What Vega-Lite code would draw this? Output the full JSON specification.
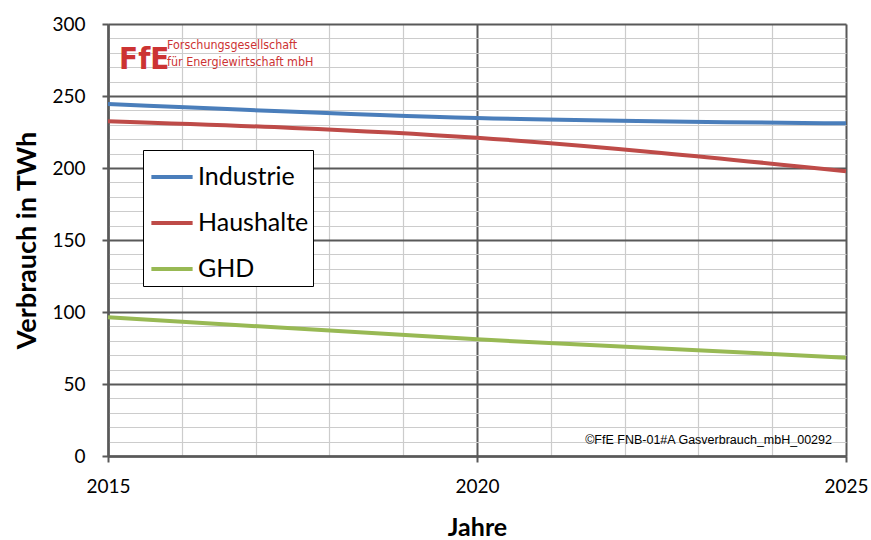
{
  "$schema": "https://vega.github.io/schema/vega-lite/v6.json",
  "width": 738,
  "height": 432,
  "autosize": "none",
  "padding": {"left": 108, "top": 24, "right": 25, "bottom": 84},
  "background": "white",
  "config": {
    "font": "Lato",
    "view": {"stroke": null},
    "axis": {"labelFont": "Lato", "titleFont": "Lato", "labelColor": "#000", "titleColor": "#000"}
  },
  "datasets": {
    "lines": [
      {"Jahr": 2015, "Sektor": "Industrie", "Wert": 244.4},
      {"Jahr": 2020, "Sektor": "Industrie", "Wert": 234.8},
      {"Jahr": 2025, "Sektor": "Industrie", "Wert": 231.0},
      {"Jahr": 2015, "Sektor": "Haushalte", "Wert": 232.5},
      {"Jahr": 2020, "Sektor": "Haushalte", "Wert": 221.0},
      {"Jahr": 2025, "Sektor": "Haushalte", "Wert": 197.8},
      {"Jahr": 2015, "Sektor": "GHD", "Wert": 96.3},
      {"Jahr": 2020, "Sektor": "GHD", "Wert": 81.0},
      {"Jahr": 2025, "Sektor": "GHD", "Wert": 68.3}
    ],
    "copy": [{"t": "©FfE FNB-01#A Gasverbrauch_mbH_00292"}],
    "logo": [{"t": "FfE"}],
    "l1": [{"t": "Forschungsgesellschaft"}],
    "l2": [{"t": "für Energiewirtschaft mbH"}]
  },
  "resolve": {"axis": {"x": "independent", "y": "independent"}},
  "layer": [
    {
      "data": {"name": "lines"},
      "mark": {"type": "line", "strokeOpacity": 0},
      "encoding": {
        "x": {"field": "Jahr", "type": "quantitative",
          "scale": {"domain": [2015, 2025], "nice": false, "zero": false},
          "axis": {"orient": "bottom", "values": [2016, 2017, 2018, 2019, 2021, 2022, 2023, 2024], "grid": true, "gridColor": "#cccccc", "gridWidth": 1.2, "labels": false, "ticks": false, "domain": false, "title": null}},
        "y": {"field": "Wert", "type": "quantitative",
          "scale": {"domain": [0, 300], "nice": false},
          "axis": {"orient": "left", "values": [10, 20, 30, 40, 60, 70, 80, 90, 110, 120, 130, 140, 160, 170, 180, 190, 210, 220, 230, 240, 260, 270, 280, 290], "grid": true, "gridColor": "#cccccc", "gridWidth": 1.2, "labels": false, "ticks": false, "domain": false, "title": null}},
        "detail": {"field": "Sektor"}
      }
    },
    {
      "data": {"name": "lines"},
      "mark": {"type": "line", "strokeOpacity": 0},
      "encoding": {
        "x": {"field": "Jahr", "type": "quantitative",
          "scale": {"domain": [2015, 2025], "nice": false, "zero": false},
          "axis": {"orient": "bottom", "values": [2015, 2020, 2025], "format": "d", "labelFlush": false, "labelBound": false, "grid": true, "gridColor": "#595959", "gridWidth": 2, "domain": true, "domainColor": "#595959", "domainWidth": 2.5, "ticks": true, "tickColor": "#595959", "tickWidth": 2, "tickSize": 6, "labelFontSize": 19, "labelPadding": 15, "title": "Jahre", "titleFontSize": 25, "titleFontWeight": "bold", "titlePadding": 19}},
        "y": {"field": "Wert", "type": "quantitative",
          "scale": {"domain": [0, 300], "nice": false},
          "axis": {"orient": "left", "values": [0, 50, 100, 150, 200, 250, 300], "grid": true, "gridColor": "#595959", "gridWidth": 2, "domain": true, "domainColor": "#595959", "domainWidth": 2.5, "ticks": true, "tickColor": "#595959", "tickWidth": 2, "tickSize": 6, "labelFontSize": 19, "labelPadding": 17, "title": "Verbrauch in TWh", "titleFontSize": 27, "titleFontWeight": "bold", "titlePadding": 10}},
        "detail": {"field": "Sektor"}
      }
    },
    {
      "data": {"name": "lines"},
      "mark": {"type": "line", "strokeWidth": 4, "interpolate": "monotone"},
      "encoding": {
        "x": {"field": "Jahr", "type": "quantitative", "axis": null},
        "y": {"field": "Wert", "type": "quantitative", "axis": null},
        "color": {"field": "Sektor", "type": "nominal",
          "scale": {"domain": ["Industrie", "Haushalte", "GHD"], "range": ["#4a7ebb", "#be4b48", "#98b954"]},
          "legend": {"orient": "none", "legendX": 35, "legendY": 126, "title": null, "strokeColor": "#000", "fillColor": "#fff", "padding": 4, "labelFontSize": 25, "labelFont": "Lato", "labelColor": "#000", "symbolType": "stroke", "symbolStrokeWidth": 4, "symbolSize": 1700, "symbolOffset": 2, "rowPadding": 10, "labelOffset": 3}}
      }
    },
    {
      "data": {"name": "copy"},
      "mark": {"type": "text", "font": "Liberation Sans", "fontSize": 12.5, "align": "right", "baseline": "middle", "color": "#000"},
      "encoding": {"x": {"datum": 2024.81, "type": "quantitative", "axis": null}, "y": {"datum": 11, "type": "quantitative", "axis": null}, "text": {"field": "t"}}
    },
    {
      "data": {"name": "logo"},
      "mark": {"type": "text", "font": "DejaVu Sans Condensed", "fontWeight": "bold", "fontSize": 31, "align": "left", "baseline": "alphabetic", "color": "#cc3333"},
      "encoding": {"x": {"datum": 2015.15, "type": "quantitative", "axis": null}, "y": {"datum": 268.5, "type": "quantitative", "axis": null}, "text": {"field": "t"}}
    },
    {
      "data": {"name": "l1"},
      "mark": {"type": "text", "font": "DejaVu Sans Condensed", "fontSize": 12.4, "align": "left", "baseline": "middle", "color": "#cc3333"},
      "encoding": {"x": {"datum": 2015.8, "type": "quantitative", "axis": null}, "y": {"datum": 285.5, "type": "quantitative", "axis": null}, "text": {"field": "t"}}
    },
    {
      "data": {"name": "l2"},
      "mark": {"type": "text", "font": "DejaVu Sans Condensed", "fontSize": 12.4, "align": "left", "baseline": "middle", "color": "#cc3333"},
      "encoding": {"x": {"datum": 2015.8, "type": "quantitative", "axis": null}, "y": {"datum": 273.5, "type": "quantitative", "axis": null}, "text": {"field": "t"}}
    }
  ]
}
